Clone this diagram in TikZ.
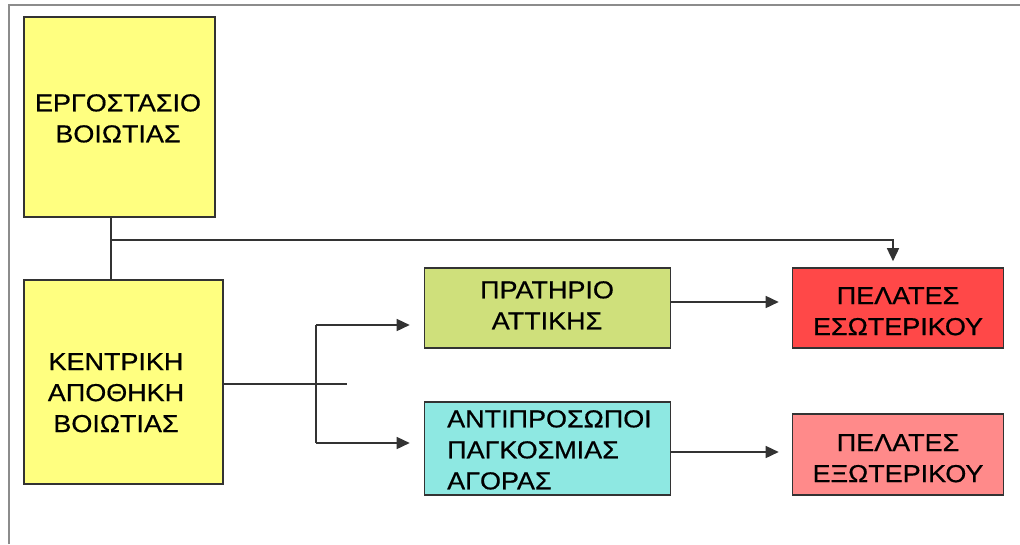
\documentclass[tikz,border=0pt]{standalone}
\usepackage{fontspec}
\newfontfamily\boxfont{Liberation Sans}[FakeStretch=1.1,FakeBold=0.6]
\usetikzlibrary{arrows.meta}
\definecolor{factory}{HTML}{FFFF80}
\definecolor{shopgreen}{HTML}{CFE07B}
\definecolor{agentcyan}{HTML}{8EE8E2}
\definecolor{domred}{HTML}{FF4848}
\definecolor{abrpink}{HTML}{FF8A8A}
\definecolor{linegray}{HTML}{333333}
\tikzset{
  x=1pt, y=-1pt,
  unit/.style={draw=linegray, line width=1.6pt, inner sep=0pt, minimum width=0pt, minimum height=0pt},
  label/.style={font=\boxfont\fontsize{24.5}{31}\selectfont, inner sep=0pt, align=center, anchor=north},
  conn/.style={draw=linegray, line width=1.5pt},
  flow/.style={conn, -{Triangle[length=13pt,width=12pt]}},
  frameline/.style={draw=gray!90, line width=2.8pt}
}
\begin{document}
\begin{tikzpicture}
\useasboundingbox (0,0) rectangle (1020,544);
\fill[white] (0,0) rectangle (1020,544);
% outer frame (top and left edges)
\draw[frameline] (9,544) -- (9,5) -- (1020,5);

% boxes
\node[unit, fill=factory,    minimum width=191pt, minimum height=200pt] (plant)  at (119.5,117) {};
\node[unit, fill=factory,    minimum width=199pt, minimum height=204pt] (store)  at (123.5,382) {};
\node[unit, fill=shopgreen,  minimum width=246pt, minimum height=80pt]  (shop)   at (547.5,308) {};
\node[unit, fill=agentcyan,  minimum width=246pt, minimum height=93pt]  (agents) at (547.5,448.5) {};
\node[unit, fill=domred,     minimum width=211pt, minimum height=80pt]  (dom)    at (898,308) {};
\node[unit, fill=abrpink,    minimum width=211pt, minimum height=81pt]  (abr)    at (898,454.5) {};

% labels
\node[label] (tplant)  at (118,94)  {ΕΡΓΟΣΤΑΣΙΟ\\ΒΟΙΩΤΙΑΣ};
\node[label] (tstore)  at (116,353) {ΚΕΝΤΡΙΚΗ\\ΑΠΟΘΗΚΗ\\ΒΟΙΩΤΙΑΣ};
\node[label] (tshop)   at (547,281) {ΠΡΑΤΗΡΙΟ\\ΑΤΤΙΚΗΣ};
\node[label, align=left, anchor=north west] (tagents) at (447,410) {ΑΝΤΙΠΡΟΣΩΠΟΙ\\ΠΑΓΚΟΣΜΙΑΣ\\ΑΓΟΡΑΣ};
\node[label] (tdom)    at (898,287) {ΠΕΛΑΤΕΣ\\ΕΣΩΤΕΡΙΚΟΥ};
\node[label] (tabr)    at (898,434) {ΠΕΛΑΤΕΣ\\ΕΞΩΤΕΡΙΚΟΥ};

% junction points
\coordinate (j1) at (111,240);
\coordinate (split) at (316,384);
\coordinate (stub) at (347,384);
\coordinate (up) at (316,325);
\coordinate (down) at (316,443);

% connectors
\draw[conn] (plant.south -| j1) -- (store.north -| j1);
\draw[flow] (j1) -- (j1 -| 893,0) -- ([yshift=6pt]dom.north -| 893,0);
\draw[conn] (store.east |- split) -- (stub);
\draw[conn] (up) -- (down);
\draw[flow] (up) -- ([xshift=-14pt]shop.west |- up);
\draw[flow] (down) -- ([xshift=-14pt]agents.west |- down);
\draw[flow] (shop.east |- 0,302) -- ([xshift=-13pt]dom.west |- 0,302);
\draw[flow] (agents.east |- 0,452) -- ([xshift=-13pt]abr.west |- 0,452);
\end{tikzpicture}
\end{document}
